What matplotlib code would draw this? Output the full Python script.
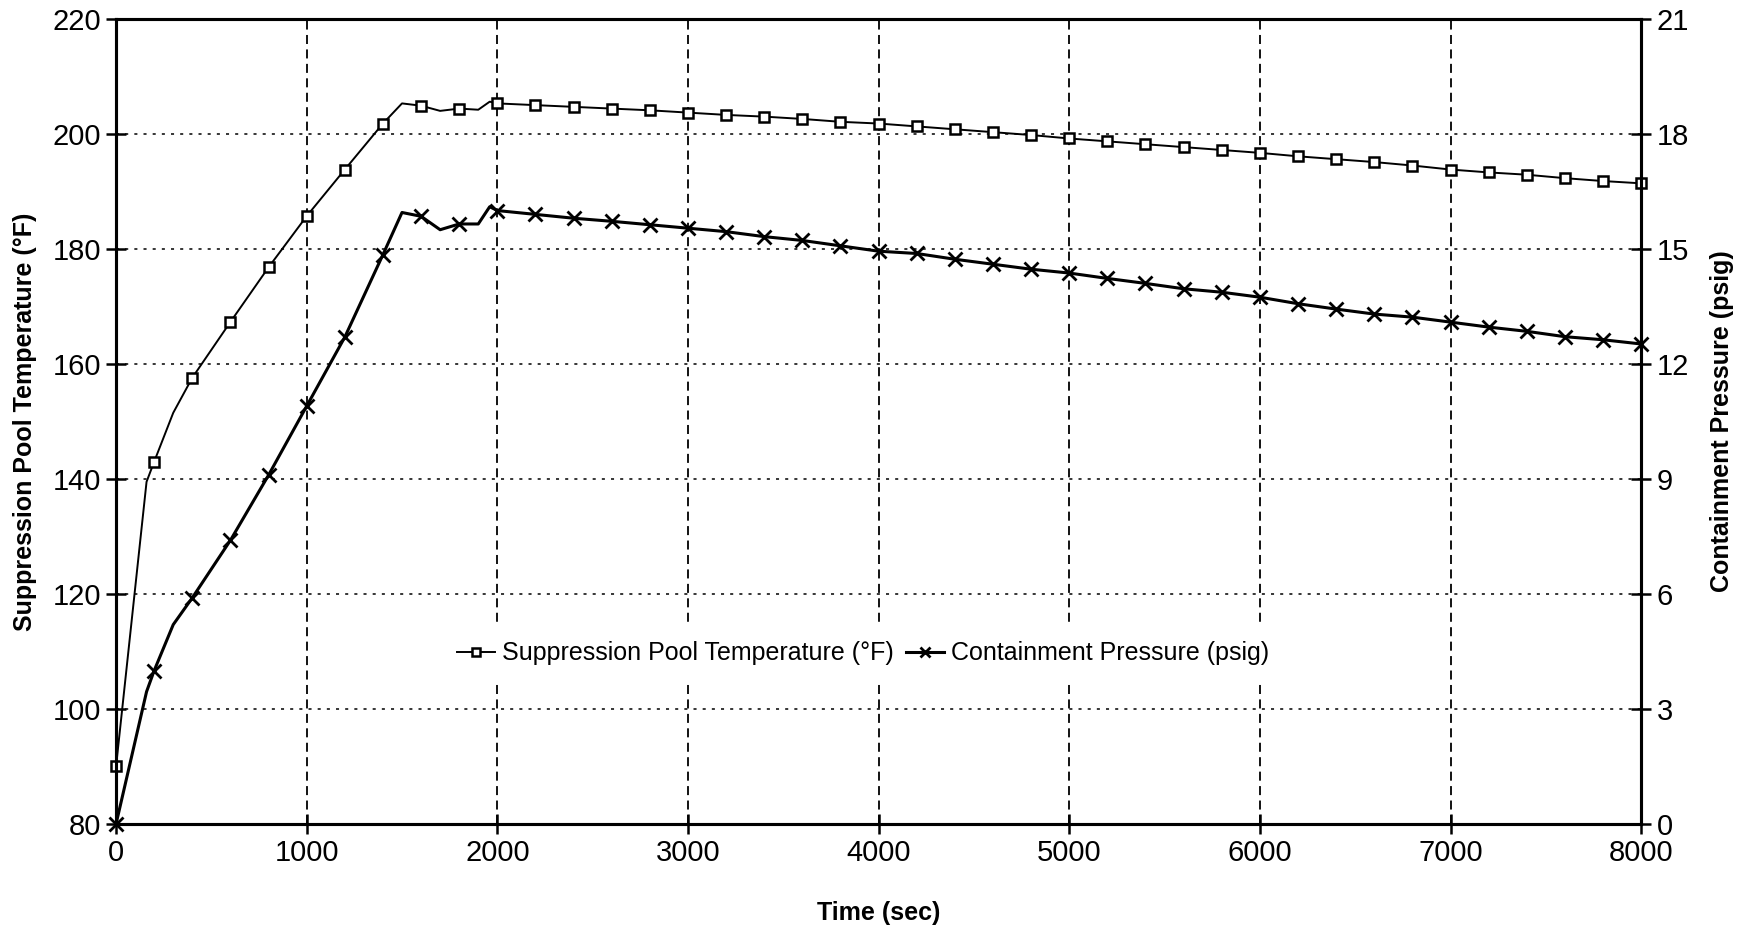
import matplotlib
matplotlib.use("Agg")
import matplotlib.pyplot as plt
import numpy as np

plt.rcParams['font.family'] = ['Liberation Sans', 'DejaVu Sans']

# time (s), temperature (F), pressure (psig)
time_s = [0, 160, 200, 300, 400, 600, 800, 1000, 1200, 1400, 1500, 1600, 1700,
          1800, 1900, 1960, 2000, 2200, 2400, 2600, 2800, 3000, 3200, 3400, 3600,
          3800, 4000, 4200, 4400, 4600, 4800, 5000, 5200, 5400, 5600, 5800, 6000,
          6200, 6400, 6600, 6800, 7000, 7200, 7400, 7600, 7800, 8000]
pool_temp = [90.0, 139.5, 143.0, 151.5, 157.6, 167.3, 176.8, 185.7, 193.8, 201.8,
             205.3, 204.9, 204.0, 204.4, 204.2, 205.6, 205.3, 205.0, 204.7, 204.4,
             204.1, 203.7, 203.3, 203.0, 202.6, 202.1, 201.8, 201.3, 200.8, 200.3,
             199.8, 199.2, 198.7, 198.2, 197.7, 197.2, 196.7, 196.1, 195.6, 195.1,
             194.5, 193.8, 193.3, 192.9, 192.3, 191.8, 191.4]
cont_press = [0.0, 3.45, 4.0, 5.2, 5.9, 7.4, 9.1, 10.9, 12.7, 14.85, 15.95, 15.85,
              15.5, 15.65, 15.65, 16.1, 16.0, 15.9, 15.8, 15.72, 15.63, 15.54, 15.45,
              15.32, 15.22, 15.08, 14.94, 14.88, 14.73, 14.6, 14.47, 14.37, 14.23,
              14.1, 13.96, 13.87, 13.74, 13.57, 13.43, 13.3, 13.22, 13.09, 12.96,
              12.85, 12.71, 12.63, 12.52]

x_ticks = [0, 1000, 2000, 3000, 4000, 5000, 6000, 7000, 8000]
temp_ticks = [80, 100, 120, 140, 160, 180, 200, 220]
press_ticks = [0, 3, 6, 9, 12, 15, 18, 21]

t = np.array(time_s)
marks = (t % 200 == 0)

fig = plt.figure(figsize=(17.53, 9.34), dpi=100)
ax = fig.add_axes([0.0662, 0.1178, 0.870, 0.862])
ax2 = ax.twinx()

l1, = ax.plot(t, pool_temp, color='k', lw=1.4, marker='s', markersize=7,
              markerfacecolor='white', markeredgecolor='k', markeredgewidth=1.8,
              markevery=list(marks), label='Suppression Pool Temperature (°F)',
              zorder=3, clip_on=False)
l2, = ax2.plot(t, cont_press, color='k', lw=2.2, marker='x', markersize=10,
               markeredgewidth=2.0, markevery=list(marks),
               label='Containment Pressure (psig)', zorder=3, clip_on=False)

ax.set_xlim(0, 8000)
ax.set_ylim(80, 220)
ax2.set_ylim(0, 21)
ax.set_xticks(x_ticks)
ax.set_yticks(temp_ticks)
ax2.set_yticks(press_ticks)

# grid
for xv in x_ticks[1:-1]:
    ax.axvline(xv, color='k', lw=1.3, ls=(0, (5, 3)), zorder=1)
for yv in temp_ticks[1:-1]:
    ax.axhline(yv, color='k', lw=1.1, ls=(0, (2, 4)), zorder=1)

for a in (ax, ax2):
    for s in a.spines.values():
        s.set_linewidth(2.2)
ax.tick_params(axis='both', direction='inout', length=14, width=1.8,
               labelsize=21, pad=4)
ax2.tick_params(axis='y', direction='inout', length=14, width=1.8,
                labelsize=21, pad=4)

ax.set_xlabel('Time (sec)', fontsize=18, fontweight='bold')
ax.set_ylabel('Suppression Pool Temperature (°F)', fontsize=18, fontweight='bold')
ax2.set_ylabel('Containment Pressure (psig)', fontsize=18, fontweight='bold')
ax.xaxis.set_label_coords(0.5, -0.096)
ax.yaxis.set_label_coords(-0.052, 0.5)
ax2.yaxis.set_label_coords(1.045, 0.5)

leg = ax2.legend(handles=[l1, l2], loc='center', bbox_to_anchor=(0.49, 0.212),
                 ncol=2, frameon=True, fontsize=18, handlelength=1.5,
                 handletextpad=0.3, columnspacing=0.5, markerscale=0.75,
                 borderpad=0.6, fancybox=False)
leg.get_frame().set_facecolor('white')
leg.get_frame().set_edgecolor('none')
leg.get_frame().set_alpha(1)

fig.savefig('out.png', dpi=100)
